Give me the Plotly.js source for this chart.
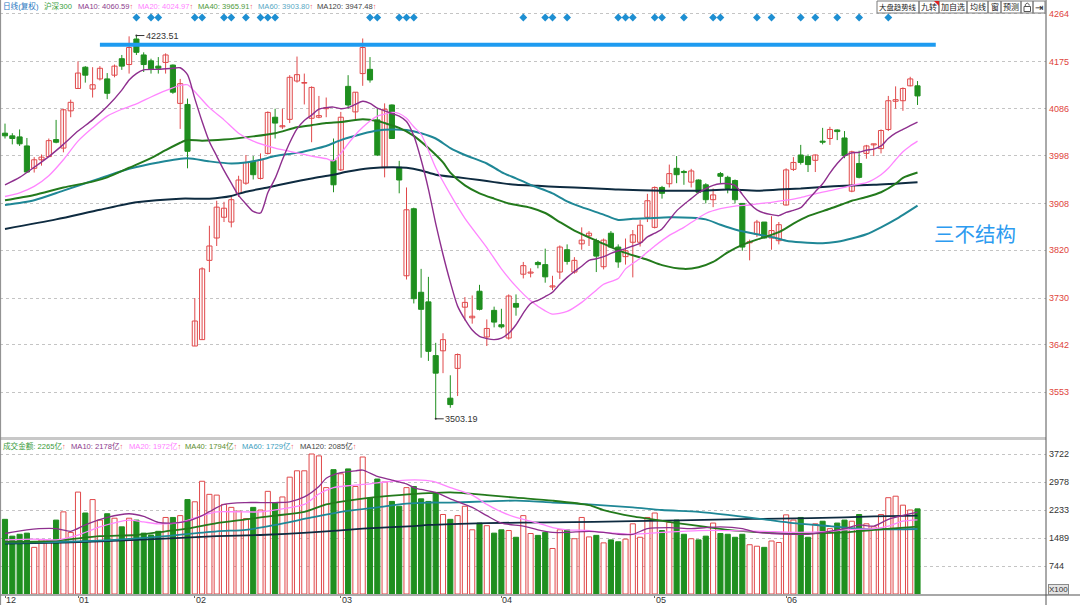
<!DOCTYPE html>
<html><head><meta charset="utf-8">
<script src="https://cdn.plot.ly/plotly-3.0.1.min.js"></script>
<style>html,body{margin:0;padding:0;background:#fff;}#chart{width:1080px;height:605px;}</style>
</head><body><div id="chart"></div>
<script>
// ---------- DATA ----------
const openP = [4040,4035,4033,4016,3974,3990,3996,4028,4012,4082,
4124,4164,4123,4142,4142,4149,4180,4169,4217,4187,
4176,4166,4173,4168,4096,4094,3640,3652,3801,3843,
3882,3873,3927,3946,3987,3955,4002,4070,4052,4066,
4138,4134,4068,4070,4086,3989,3971,4128,4080,4152,
4160,4065,3976,4093,3976,3772,3898,3741,3723,3622,
3631,3542,3598,3713,3693,3743,3657,3707,3680,3655,
3720,3775,3777,3797,3793,3751,3779,3821,3779,3832,
3847,3838,3789,3852,3826,3808,3835,3835,3882,3863,
3938,3945,3974,3968,3948,3952,3943,3915,3964,3957,
3951,3908,3834,3850,3873,3843,3838,3905,3972,3999,
3996,3989,4025,4030,4046,4031,3931,3983,4002,4018,
4011,4047,4100,4101,4129,4129];
const closeP = [4035,4030,4020,3967,3990,3995,4026,4023,4084,4098,
4153,4149,4131,4162,4115,4166,4166,4201,4192,4169,
4161,4162,4187,4117,4133,4006,3687,3785,3828,3901,
3899,3915,3952,3985,3962,3990,4079,4059,4054,4145,
4150,4135,4126,4073,4088,3943,4070,4093,4117,4201,
4140,3999,4085,4030,3952,3896,3729,3709,3630,3589,
3652,3530,3624,3722,3696,3709,3673,3685,3676,3734,
3713,3791,3779,3793,3770,3753,3826,3799,3801,3839,
3852,3809,3839,3826,3798,3819,3849,3867,3913,3938,
3927,3964,3962,3966,3969,3929,3915,3924,3959,3936,
3915,3826,3836,3873,3843,3857,3868,3971,3985,3985,
3981,3999,4023,4047,4043,3998,4005,3957,4016,4020,
4045,4101,4103,4124,4142,4110];
const highP = [4058,4040,4047,4031,3995,4000,4030,4065,4086,4103,
4175,4166,4164,4166,4153,4169,4187,4222,4223.51,4192,
4180,4183,4190,4169,4142,4105,3730,3788,3866,3913,
3911,3920,3960,3999,3997,4002,4081,4086,4086,4149,
4184,4152,4128,4110,4107,4030,4080,4149,4117,4218,
4183,4086,4096,4094,3988,3938,3900,3785,3770,3646,
3664,3585,3626,3732,3735,3755,3690,3714,3710,3737,
3737,3798,3786,3800,3823,3772,3829,3831,3807,3863,
3856,3842,3842,3856,3831,3842,3858,3877,3926,3940,
3941,3981,3997,3971,3973,3953,3946,3936,3967,3960,
3953,3908,3840,3877,3873,3884,3873,3974,3995,4018,
4000,4000,4050,4052,4047,4044,4007,4007,4018,4020,
4047,4110,4128,4126,4146,4138];
const lowP = [4030,4019,4016,3966,3966,3979,3995,4021,4004,4070,
4124,4135,4107,4139,4104,4145,4159,4152,4187,4155,
4152,4152,4152,4114,4048,3974,3640,3652,3779,3828,
3873,3863,3920,3943,3953,3953,4000,4030,4048,4059,
4135,4094,4023,4068,4070,3929,3969,4086,4065,4129,
4135,3997,3957,4029,3927,3765,3720,3618,3612,3503.19,
3589,3524,3546,3688,3682,3707,3640,3675,3673,3652,
3697,3767,3769,3786,3759,3745,3766,3793,3776,3821,
3828,3779,3784,3824,3787,3793,3769,3827,3873,3861,
3917,3938,3946,3943,3938,3927,3908,3901,3946,3927,
3908,3819,3801,3845,3842,3821,3831,3904,3969,3981,
3967,3967,4019,4018,4027,3993,3929,3955,3992,3997,
4002,4044,4086,4082,4128,4093];
const turnover = [1986,1539,1589,1619,1241,1440,1410,1966,2185,1638,
2711,2155,2512,1966,2135,2016,1787,2016,1966,1619,
1569,1668,2036,2036,2085,2512,2453,2999,2651,2631,
2383,2304,2204,2006,2304,2234,2731,2433,2582,3108,
3277,3277,3724,3674,2830,3307,3197,3327,2860,3644,
2552,3058,2979,2463,2334,2830,2860,2532,2463,2701,
2115,1986,2085,2334,1708,1887,1817,1619,1708,1688,
1509,2085,1609,1559,1638,1211,1708,1708,1470,2036,
1519,1559,1360,1440,1390,1460,1867,1509,2036,2155,
1688,1907,1966,1589,1470,1440,1539,1887,1609,1589,
1509,1589,1311,1271,1241,1410,1370,2105,1966,2036,
1509,1867,1936,1738,1887,1966,1936,2115,1867,1787,
2115,2562,2602,2363,2234,2265];

// price moving averages (candle index, value)
const ma10Idx = [0,2,4,6,8,10,12,14,16,17,18,19,21,23,24,25,26,27,28,29,30,31,32,33,34,35,36,37,38,39,40,41,42,43,44,45,46,47,48,49,50,51,52,53,54,55,56,57,58,59,60,61,62,63,64,65,66,67,68,69,70,71,72,73,74,75,76,77,78,79,80,81,82,83,84,85,86,87,88,89,90,91,92,93,94,95,96,97,98,99,100,101,102,103,104,105,106,107,108,109,110,111,112,113,114,115,116,117,118,119,120,121,122,123,124,125];
const ma10Val = [3943,3957,3976,3996,4019,4044,4065,4090,4121,4140,4152,4159,4160,4162,
4163,4150,4105,4062,4024,3997,3970,3946,3923,3907,
3893,3890,3928,3955,3990,4022,4048,4064,4074,4085,
4088,4089,4086,4088,4094,4100,4096,4087,4082,4077,
4072,4062,4035,3990,3935,3870,3812,3760,3715,3690,
3670,3658,3654,3652,3655,3664,3680,3702,3720,3726,
3733,3741,3756,3769,3780,3790,3801,3804,3808,3814,
3819,3823,3828,3833,3845,3852,3860,3877,3894,3906,
3917,3928,3936,3942,3945,3945,3942,3925,3908,3896,
3890,3887,3885,3891,3895,3900,3915,3930,3945,3965,
3983,3997,4003,4004,4008,4010,4016,4030,4040,4047,
4054,4061];
const ma20Idx = [0,2,4,6,8,10,12,14,16,18,20,22,24,25,26,28,30,32,34,37,39,42,44,45,46,47,48,49,50,51,52,53,54,55,56,57,59,61,63,66,68,70,72,74,75,77,79,81,82,84,85,87,89,91,93,94,96,98,100,102,103,105,107,109,111,113,115,116,118,120,121,122,123,124,125];
const ma20Val = [3921,3928,3940,3960,3990,4025,4050,4072,4085,4095,4108,4120,4130,4131,4118,4088,4065,4040,4025,4012,4006,3997,3992,3988,4002,4020,4037,4051,4063,4072,4076,4079,4077,4068,4052,4038,3975,3925,3880,3825,3785,3752,3725,3706,3700,3705,3722,3745,3756,3767,3785,3805,3828,3848,3863,3872,3889,3898,3903,3905,3907,3910,3914,3919,3926,3932,3938,3942,3947,3962,3974,3990,4005,4016,4025];
const ma40Idx = [0,4,8,12,14,17,20,22,24,25,27,30,34,37,40,42,44,46,49,51,52,54,56,58,60,61,63,65,67,69,72,74,76,78,81,83,85,88,90,93,95,97,99,101,103,106,108,110,113,115,116,118,120,122,123,125];
const ma40Val = [3914,3924,3938,3949,3957,3975,3993,4008,4022,4027,4026,4028,4034,4040,4051,4055,4059,4061,4066,4063,4059,4050,4035,4012,3985,3966,3942,3927,3917,3908,3900,3890,3873,3857,3838,3826,3815,3802,3792,3785,3788,3798,3816,3830,3840,3854,3870,3884,3898,3908,3913,3920,3929,3945,3956,3966];
const ma60Idx = [0,4,8,13,17,21,25,28,31,33,35,37,40,42,44,46,49,51,53,55,57,59,61,63,66,68,70,72,75,77,79,82,84,86,88,91,94,96,98,100,103,105,107,109,112,114,116,118,120,122,125];
const ma60Val = [3905,3914,3932,3955,3973,3985,3993,3987,3983,3985,3990,3997,4003,4009,4016,4027,4039,4045,4047,4046,4040,4030,4012,3999,3983,3967,3955,3943,3927,3912,3901,3887,3877,3879,3880,3882,3881,3878,3868,3859,3850,3845,3838,3835,3833,3836,3842,3850,3863,3878,3904];
const ma120Idx = [0,7,13,18,24,28,31,33,36,39,42,45,47,50,53,55,57,59,62,65,67,70,73,76,78,81,84,90,95,99,103,106,109,112,115,119,125];
const ma120Val = [3860,3878,3896,3910,3917,3917,3922,3930,3938,3947,3955,3962,3968,3974,3976,3975,3970,3962,3957,3952,3948,3943,3941,3939,3938,3936,3934,3932,3932,3934,3932,3934,3936,3939,3941,3943,3948];

// turnover moving averages
const vma10Idx = [0,3,7,9,11,14,17,19,21,23,25,27,28,30,33,35,37,39,41,43,44,46,48,49,51,53,55,56,57,59,61,64,66,68,71,73,75,77,80,82,84,86,88,91,94,96,98,101,103,105,108,110,112,115,117,119,121,124,125];
const vma10Val = [1609,1708,1738,1668,1837,2036,2135,2065,1907,1887,1936,2085,2190,2383,2433,2433,2433,2453,2582,2860,3078,3227,3277,3297,3128,3029,2929,2830,2780,2701,2532,2304,2085,1887,1807,1708,1638,1638,1668,1638,1589,1589,1738,1767,1738,1767,1787,1738,1638,1609,1589,1589,1638,1738,1837,1807,1986,2135,2178];
const vma20Idx = [0,4,7,10,13,17,19,21,24,27,29,32,35,38,41,43,45,47,50,52,55,57,59,61,64,66,68,70,73,75,77,80,82,84,86,90,95,99,104,108,113,115,119,121,123,125];
const vma20Val = [1440,1460,1440,1569,1787,1966,1917,1867,1907,2085,2185,2185,2185,2264,2383,2661,2830,2880,2929,2979,3029,3029,2979,2830,2631,2383,2185,2036,1887,1767,1708,1688,1638,1609,1589,1638,1688,1688,1668,1638,1668,1708,1738,1807,1936,1972];
const vma40Idx = [0,4,8,13,18,22,25,29,33,37,41,44,47,51,54,58,61,66,70,75,80,82,86,88,92,96,99,104,108,115,119,125];
const vma40Val = [1390,1390,1440,1539,1569,1668,1738,1887,1986,2085,2185,2383,2483,2582,2631,2681,2701,2631,2562,2483,2363,2234,2065,2006,1887,1787,1708,1638,1609,1638,1708,1794];
const vma60Idx = [0,8,15,22,29,33,37,42,46,51,55,58,61,66,70,75,80,86,90,95,99,104,108,113,116,119,125];
const vma60Val = [1370,1390,1440,1539,1668,1708,1837,2036,2185,2304,2403,2433,2433,2463,2483,2433,2383,2304,2234,2185,2105,1986,1887,1807,1750,1720,1729];
const vma120Idx = [0,8,18,29,35,42,49,56,58,66,75,86,99,106,115,119,125];
const vma120Val = [1341,1370,1440,1539,1569,1638,1738,1807,1837,1887,1907,1936,1986,2006,2036,2065,2085];

const signalIdx = [18,20,21,26,27,30,31,33,35,36,37,50,51,54,55,56,71,74,75,77,84,85,86,89,90,93,97,98,103,105,109,111,114,117,121];

const monthLabels = ['12','01','02','03','04','05','06'];
const monthStartIdx = [0,10,26,46,68,89,107];
const priceTicks = [4264,4175,4086,3998,3908,3820,3730,3642,3553];
const volTicks = [744,1489,2233,2978,3722];

const priceLegend = ['日线(复权)','沪深300','MA10: 4060.59','MA20: 4024.97','MA40: 3965.91','MA60: 3903.80','MA120: 3947.48'];
const volLegend = ['成交金额: 2265亿','MA10: 2178亿','MA20: 1972亿','MA40: 1794亿','MA60: 1729亿','MA120: 2085亿'];
const buttonLabels = ['大盘趋势线','九转','加自选','均线','窗','预测','','⇥'];
const peakPoint = {idx:18, value:4223.51};
const lowPoint = {idx:59, value:3503.19};
const resistanceLevel = 4206;
const resistanceFrom = 13, resistanceTo = 127.5;
const noteText = '三不结构';

// ---------- STYLE ----------
const RED = '#E0484A', GREEN = '#1F8F1F';
const C_MA10 = '#8E2F8E', C_MA20 = '#FF85FF', C_MA40 = '#237A1C', C_MA60 = '#1F8796', C_MA120 = '#0E2B40';
const FONT = 'Liberation Sans, Arial, Noto Sans CJK SC, sans-serif';
const PW = 1046, PH = 594;
const px = x => x / PW, py = y => (PH - y) / PH;
const P_TOP = 4271.5, P_BOT = 3470.9, V_TOP = 4070;
const priceAtPx = y => P_TOP - (y - 10) * (P_TOP - P_BOT) / 426;

const N = openP.length;
const isUp = i => closeP[i] >= openP[i];

function wicks(up){
  const xs=[], ys=[];
  for (let i=0;i<N;i++) if (isUp(i)===up){ xs.push(i,i,null); ys.push(lowP[i],highP[i],null); }
  return {type:'scatter', mode:'lines', x:xs, y:ys, line:{color: up?RED:GREEN, width:1}, hoverinfo:'skip', xaxis:'x', yaxis:'y'};
}
function bodies(up){
  const xs=[], base=[], len=[];
  for (let i=0;i<N;i++) if (isUp(i)===up){
    xs.push(i); base.push(Math.min(openP[i],closeP[i])); len.push(Math.max(Math.abs(closeP[i]-openP[i]),1.2));
  }
  return {type:'bar', x:xs, y:len, base:base, width:0.7,
    marker:{color: up?'#FFFFFF':GREEN, line:{color: up?RED:GREEN, width:1}}, hoverinfo:'skip', xaxis:'x', yaxis:'y'};
}
function volBars(up){
  const xs=[], ys=[];
  for (let i=0;i<N;i++) if (isUp(i)===up){ xs.push(i); ys.push(turnover[i]); }
  return {type:'bar', x:xs, y:ys, width:0.7,
    marker:{color: up?'#FFFFFF':GREEN, line:{color: up?RED:GREEN, width:1}}, hoverinfo:'skip', xaxis:'x', yaxis:'y2'};
}
function line(xs, ys, color, width, axis){
  return {type:'scatter', mode:'lines', x:xs, y:ys, line:{color:color, width:width, shape:'spline', smoothing:0.7}, hoverinfo:'skip', xaxis:'x', yaxis:axis};
}

const traces = [
  wicks(true), wicks(false), bodies(true), bodies(false),
  line(ma120Idx, ma120Val, C_MA120, 2, 'y'),
  line(ma60Idx, ma60Val, C_MA60, 2, 'y'),
  line(ma40Idx, ma40Val, C_MA40, 2, 'y'),
  line(ma20Idx, ma20Val, C_MA20, 1.3, 'y'),
  line(ma10Idx, ma10Val, C_MA10, 1.4, 'y'),
  {type:'scatter', mode:'markers', x:signalIdx, y:signalIdx.map(()=>priceAtPx(17.5)),
   marker:{symbol:'diamond', size:6, color:'#1E8FD2'}, hoverinfo:'skip', xaxis:'x', yaxis:'y', cliponaxis:false},
  volBars(true), volBars(false),
  line(vma120Idx, vma120Val, C_MA120, 1.8, 'y2'),
  line(vma60Idx, vma60Val, C_MA60, 1.8, 'y2'),
  line(vma40Idx, vma40Val, C_MA40, 1.8, 'y2'),
  line(vma20Idx, vma20Val, C_MA20, 1.3, 'y2'),
  line(vma10Idx, vma10Val, C_MA10, 1.3, 'y2')
];

// ---------- ANNOTATIONS ----------
const ann = [];
const ARROW = '<span style="color:#F05A5A">↑</span>';
const topColors = ['#2B78C2','#3AA03A','#8B3A8B','#FF7FFF','#4E9A3A','#58A8C4','#444444'];
const topX = [2,43,77,137,197,257,316];
priceLegend.forEach((t,i)=>{
  ann.push({xref:'paper', yref:'paper', x:px(topX[i]), y:py(6.5), xanchor:'left', yanchor:'middle', showarrow:false,
    text: t + (i>=2?ARROW:''), font:{family:FONT, size:7.6, color:topColors[i]}, borderpad:0});
});
const volColors = ['#3A9A3A','#8B3A8B','#FF80FF','#5C8E2E','#40A0C0','#444444'];
const volX = [2,70,128,184,241,299];
volLegend.forEach((t,i)=>{
  ann.push({xref:'paper', yref:'paper', x:px(volX[i]), y:py(446), xanchor:'left', yanchor:'middle', showarrow:false,
    text: t + ARROW, font:{family:FONT, size:7.6, color:volColors[i]}, borderpad:0});
});
monthLabels.forEach((t,i)=>{
  ann.push({xref:'x', yref:'paper', x:monthStartIdx[i], y:py(600), xanchor:'left', yanchor:'middle', xshift:-1, showarrow:false,
    text:t, font:{family:'Liberation Sans Narrow, Liberation Sans, Arial, sans-serif', size:9, color:'#333'}});
});
const btnEdges = [877,919,939,967,988,1001,1021,1033,1045];
buttonLabels.forEach((t,i)=>{
  if (!t) return;
  ann.push({xref:'paper', yref:'paper', x:px((btnEdges[i]+btnEdges[i+1])/2), y:py(7), xanchor:'center', yanchor:'middle', showarrow:false,
    text:t, borderpad:0,
    font:{family: t==='⇥' ? 'DejaVu Sans, sans-serif' : FONT, size: t==='⇥'?10:(t.length>=5?7.4:8), color:'#222'}});
});
ann.push({xref:'x', yref:'y', x:peakPoint.idx, y:peakPoint.value, text:peakPoint.value.toFixed(2), showarrow:true,
  ax:26, ay:0, arrowhead:6, arrowsize:0.5, arrowwidth:1, arrowcolor:'#333', font:{family:FONT, size:9, color:'#333'}});
ann.push({xref:'x', yref:'y', x:lowPoint.idx, y:lowPoint.value, text:lowPoint.value.toFixed(2), showarrow:true,
  ax:26, ay:0, arrowhead:6, arrowsize:0.5, arrowwidth:1, arrowcolor:'#333', font:{family:FONT, size:9, color:'#333'}});
ann.push({xref:'paper', yref:'paper', x:px(975), y:py(233), xanchor:'center', yanchor:'middle', showarrow:false,
  text:noteText, font:{family:'Noto Sans CJK SC, sans-serif', size:20.5, color:'#2C9BF0'}});
ann.push({xref:'paper', yref:'paper', x:px(1048), y:py(589), xanchor:'left', yanchor:'middle', showarrow:false,
  text:'X100', font:{family:FONT, size:8, color:'#333'}, bgcolor:'#E4E4E4', bordercolor:'#8A8A8A', borderwidth:1, borderpad:0});

// ---------- SHAPES ----------
const shapes = [
  {type:'line', xref:'x', yref:'y', x0:resistanceFrom, x1:resistanceTo, y0:resistanceLevel, y1:resistanceLevel, line:{color:'#1E9BF0', width:4}},
  {type:'line', xref:'paper', yref:'paper', x0:0, x1:1, y0:py(438.5), y1:py(438.5), line:{color:'#C8C8C8', width:3}},
  {type:'line', xref:'paper', yref:'paper', x0:0, x1:1080/PW, y0:py(595), y1:py(595), line:{color:'#A8A8A8', width:2}},
  {type:'line', xref:'paper', yref:'paper', x0:1, x1:1, y0:py(-5), y1:py(610), line:{color:'#555', width:1}},
  {type:'line', xref:'paper', yref:'paper', x0:px(0.6), x1:px(0.6), y0:py(0), y1:py(605), line:{color:'#888', width:1}}
];
for (let i=0;i<btnEdges.length-1;i++){
  shapes.push({type:'rect', xref:'paper', yref:'paper', x0:px(btnEdges[i]), x1:px(btnEdges[i+1]), y0:py(13), y1:py(1),
    line:{color:'#7A7A7A', width:1}, fillcolor:'rgba(255,255,255,0)'});
}
shapes.push({type:'path', xref:'paper', yref:'paper', path:`M ${px(934)} ${py(1)} L ${px(939)} ${py(1)} L ${px(939)} ${py(6)} Z`, fillcolor:'#E02020', line:{width:0}});
shapes.push({type:'rect', xref:'paper', yref:'paper', x0:px(1024), x1:px(1030.5), y0:py(11.5), y1:py(6.5), line:{color:'#555', width:1}});
shapes.push({type:'path', xref:'paper', yref:'paper', path:`M ${px(1025.3)} ${py(6.5)} L ${px(1025.3)} ${py(4.5)} Q ${px(1027.2)} ${py(1.6)} ${px(1029.2)} ${py(4.5)} L ${px(1029.2)} ${py(5.5)}`, line:{color:'#555', width:1}});

const layout = {
  width:1080, height:605, margin:{l:0, r:34, t:0, b:11, pad:0},
  paper_bgcolor:'#FFFFFF', plot_bgcolor:'#FFFFFF', showlegend:false, barmode:'overlay', bargap:0,
  xaxis:{range:[-0.685, 142.6], anchor:'y2', showgrid:false, zeroline:false, showline:false,
    tickmode:'array', tickvals:monthStartIdx, ticktext:monthStartIdx.map(()=>''), ticks:'outside', ticklen:3, tickcolor:'#666', fixedrange:true},
  yaxis:{domain:[py(436), py(10)], range:[P_BOT, P_TOP], side:'right', anchor:'x',
    tickmode:'array', tickvals:priceTicks, ticktext:priceTicks.map(String), ticks:'', ticklabelstandoff:2,
    tickfont:{family:FONT, size:9, color:'#E0443C'}, showgrid:true, gridcolor:'#C4C4C4', griddash:'dot', gridwidth:1,
    zeroline:false, showline:false, fixedrange:true},
  yaxis2:{domain:[0, py(441)], range:[0, V_TOP], side:'right', anchor:'x',
    tickmode:'array', tickvals:volTicks, ticktext:volTicks.map(String), ticks:'', ticklabelstandoff:2,
    tickfont:{family:FONT, size:9, color:'#333'}, showgrid:true, gridcolor:'#C4C4C4', griddash:'dot', gridwidth:1,
    zeroline:false, showline:false, fixedrange:true},
  annotations: ann, shapes: shapes
};
Plotly.newPlot('chart', traces, layout, {displayModeBar:false, staticPlot:true});
</script></body></html>
